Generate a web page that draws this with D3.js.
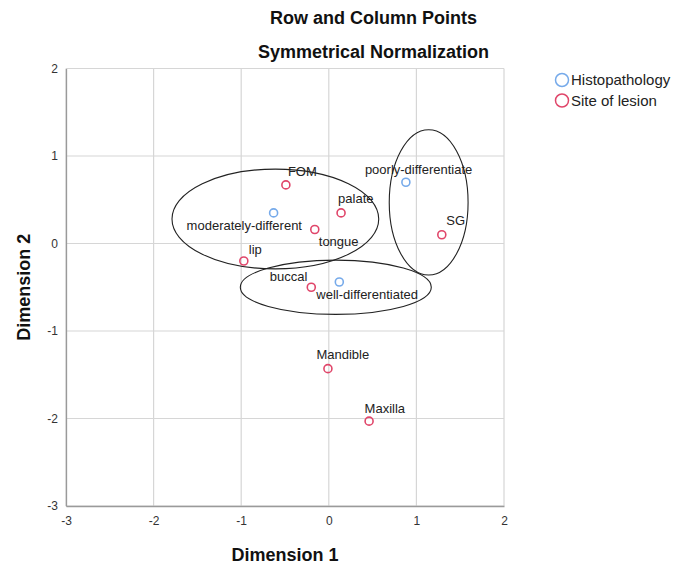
<!DOCTYPE html>
<html>
<head>
<meta charset="utf-8">
<script src="https://cdn.jsdelivr.net/npm/d3@7"></script>
<style>
  html, body { margin: 0; padding: 0; background: #fff; }
  svg { display: block; font-family: Arial, "Liberation Sans", sans-serif; }
</style>
</head>
<body>
<svg id="chart" width="673" height="565"></svg>
<script>
// Correspondence analysis: row (histopathology) and column (site of lesion) points
const histoLabels = ["moderately-different", "poorly-differentiate", "well-differentiated"];
const histoDim1 = [-0.63, 0.88, 0.12];
const histoDim2 = [0.35, 0.70, -0.44];

const siteLabels = ["FOM", "palate", "tongue", "lip", "buccal", "Mandible", "Maxilla", "SG"];
const siteDim1 = [-0.49, 0.14, -0.16, -0.97, -0.20, -0.01, 0.46, 1.29];
const siteDim2 = [0.67, 0.35, 0.16, -0.20, -0.50, -1.43, -2.03, 0.10];

const tickValues = [-3, -2, -1, 0, 1, 2];
const legendLabels = ["Histopathology", "Site of lesion"];

// Highlighted clusters, given in data units: centre and half-axes
const groupCx = [-0.61, 0.08, 1.14];
const groupCy = [0.28, -0.50, 0.47];
const groupRx = [1.18, 1.09, 0.45];
const groupRy = [0.57, 0.31, 0.83];

// Label placement relative to each marker (pixel offsets to the text baseline)
const histoLabelPos = [
  { dx: -87, dy: 17, anchor: "start" },
  { dx: -41, dy: -8, anchor: "start" },
  { dx: -23, dy: 17, anchor: "start" }
];
const siteLabelPos = [
  { dx: 2, dy: -9, anchor: "start" },
  { dx: -3, dy: -9.5, anchor: "start" },
  { dx: 4, dy: 16, anchor: "start" },
  { dx: 5, dy: -7, anchor: "start" },
  { dx: -4, dy: -6.5, anchor: "end" },
  { dx: -11.5, dy: -10, anchor: "start" },
  { dx: -4.5, dy: -8.5, anchor: "start" },
  { dx: 4.5, dy: -9.5, anchor: "start" }
];

const blue = "#76aaea";
const red = "#e0466a";

const svg = d3.select("#chart");
const plotLeft = 66, plotRight = 504, plotTop = 68.5, plotBottom = 506;

const x = d3.scaleLinear().domain([-3, 2]).range([plotLeft, plotRight]);
const y = d3.scaleLinear().domain([-3, 2]).range([plotBottom, plotTop]);

// grid
const grid = svg.append("g");
grid.selectAll("line.v").data(tickValues).join("line")
  .attr("class", "v")
  .attr("x1", d => x(d)).attr("x2", d => x(d))
  .attr("y1", plotTop).attr("y2", plotBottom)
  .attr("stroke", "#d6d6d6").attr("stroke-width", 1.2);
grid.selectAll("line.h").data(tickValues).join("line")
  .attr("class", "h")
  .attr("x1", plotLeft).attr("x2", plotRight)
  .attr("y1", d => y(d)).attr("y2", d => y(d))
  .attr("stroke", "#d6d6d6").attr("stroke-width", 1.2);

// axes
const fmt = d => String(d);
const xAxis = d3.axisBottom(x).tickValues(tickValues).tickFormat(fmt).tickSize(0).tickPadding(10);
const yAxis = d3.axisLeft(y).tickValues(tickValues).tickFormat(fmt).tickSize(0).tickPadding(8);
const gx = svg.append("g").attr("transform", `translate(0,${plotBottom})`).call(xAxis);
const gy = svg.append("g").attr("transform", `translate(${plotLeft},0)`).call(yAxis);
[gx, gy].forEach(g => {
  g.select(".domain").attr("stroke", "#9a9a9a").attr("stroke-width", 1.3);
  g.selectAll("text").attr("fill", "#333").style("font-size", "12px")
    .style("font-family", "Arial, 'Liberation Sans', sans-serif");
});

// axis titles
svg.append("text").attr("x", (plotLeft + plotRight) / 2).attr("y", 561)
  .attr("text-anchor", "middle").style("font-size", "18px").style("font-weight", "bold")
  .attr("fill", "#111").text("Dimension 1");
svg.append("text")
  .attr("transform", `translate(30,${(plotTop + plotBottom) / 2}) rotate(-90)`)
  .attr("text-anchor", "middle").style("font-size", "18px").style("font-weight", "bold")
  .attr("fill", "#111").text("Dimension 2");

// chart titles
svg.append("text").attr("x", 373.5).attr("y", 24).attr("text-anchor", "middle")
  .style("font-size", "18px").style("font-weight", "bold").attr("fill", "#111")
  .text("Row and Column Points");
svg.append("text").attr("x", 373.5).attr("y", 58).attr("text-anchor", "middle")
  .style("font-size", "18px").style("font-weight", "bold").attr("fill", "#111")
  .text("Symmetrical Normalization");

// cluster ellipses
const groups = groupCx.map((cx, i) => ({ cx, cy: groupCy[i], rx: groupRx[i], ry: groupRy[i] }));
svg.append("g").selectAll("ellipse").data(groups).join("ellipse")
  .attr("cx", d => x(d.cx)).attr("cy", d => y(d.cy))
  .attr("rx", d => x(d.cx + d.rx) - x(d.cx))
  .attr("ry", d => y(d.cy - d.ry) - y(d.cy))
  .attr("fill", "none").attr("stroke", "#222").attr("stroke-width", 1.1);

// points
function drawSeries(labels, d1, d2, pos, color) {
  const data = labels.map((l, i) => ({ label: l, d1: d1[i], d2: d2[i], p: pos[i] }));
  const g = svg.append("g");
  g.selectAll("circle").data(data).join("circle")
    .attr("cx", d => x(d.d1)).attr("cy", d => y(d.d2)).attr("r", 4)
    .attr("fill", "none").attr("stroke", color).attr("stroke-width", 1.6);
  g.selectAll("text").data(data).join("text")
    .attr("x", d => x(d.d1) + d.p.dx).attr("y", d => y(d.d2) + d.p.dy)
    .attr("text-anchor", d => d.p.anchor)
    .style("font-size", "13px").attr("fill", "#222")
    .text(d => d.label);
}
drawSeries(histoLabels, histoDim1, histoDim2, histoLabelPos, blue);
drawSeries(siteLabels, siteDim1, siteDim2, siteLabelPos, red);

// legend
const legend = svg.append("g").attr("transform", "translate(562,80)");
const legendColors = [blue, red];
legendLabels.forEach((l, i) => {
  legend.append("circle").attr("cx", 0).attr("cy", i * 20.5).attr("r", 6.5)
    .attr("fill", "none").attr("stroke", legendColors[i]).attr("stroke-width", 1.5);
  legend.append("text").attr("x", 9).attr("y", i * 20.5).attr("dy", "0.36em")
    .style("font-size", "15px").attr("fill", "#222").text(l);
});
</script>
</body>
</html>
